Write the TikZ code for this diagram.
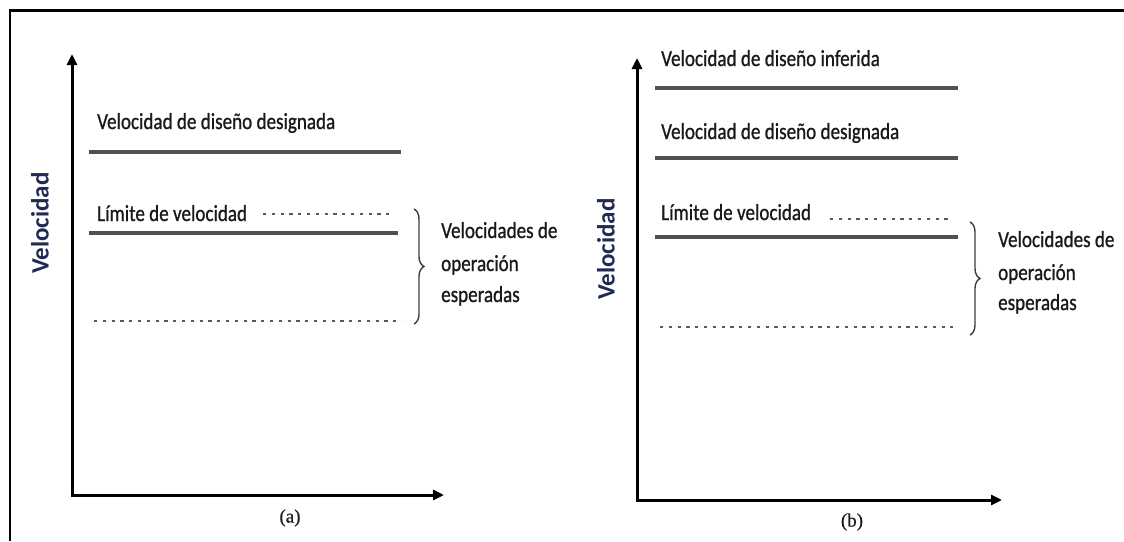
\documentclass[tikz,border=0pt]{standalone}
\usepackage{fontspec}
\setmainfont{Carlito}
\newfontfamily\lblfont[FakeBold=1.0]{Carlito}
\newfontfamily\serifcap[FakeBold=0.6]{Liberation Serif}
\usetikzlibrary{arrows.meta,decorations.pathreplacing}
\definecolor{linegray}{RGB}{80,80,80}
\definecolor{dotgray}{RGB}{90,90,90}
\definecolor{bracegray}{RGB}{60,60,60}
\definecolor{axlabel}{RGB}{32,42,85}
\definecolor{txt}{RGB}{25,25,30}
\begin{document}
\begin{tikzpicture}[x=1pt,y=-1pt,
  lbl/.style={anchor=base west, inner sep=0pt, font=\lblfont\fontsize{23}{26}\selectfont, xscale=0.83, text=txt},
  vlbl/.style={inner sep=0pt, font=\fontsize{25}{28}\selectfont\bfseries, rotate=90, text=axlabel},
  caplbl/.style={inner sep=0pt, font=\serifcap\fontsize{19}{22}\selectfont, text=txt},
  axis/.style={line width=3pt, black, -{Triangle[length=11pt,width=10pt]}},
  solidline/.style={line width=3.2pt, linegray},
  dotline/.style={line width=2.8pt, dotgray, dash pattern=on 3.2pt off 5.6pt},
  bracel/.style={line width=1.4pt, bracegray, decorate, decoration={brace, amplitude=10pt}},
  frameline/.style={line width=2.4pt, black}]
\useasboundingbox (0,0) rectangle (1124,541);
% frame
\coordinate (fTR) at (1124,10.5);
\coordinate (fTL) at (10,10.5);
\coordinate (fBL) at (10,541);
\draw[frameline] (fTR) -- (fTL) -- (fBL);

% ---------------- panel (a) ----------------
\coordinate (aO) at (72,495);
\coordinate (aY) at (72,54);
\coordinate (aX) at (444,495);
\draw[axis] ([yshift=1.5pt]aO) -- (aY);
\draw[axis] ([xshift=-1.5pt]aO) -- (aX);
\node[vlbl] (aVel) at (40,223) {Velocidad};

\node[lbl] (aDes) at (97,129) {Velocidad de diseño designada};
\coordinate (aS1a) at (89,152); \coordinate (aS1b) at (401,152);
\draw[solidline] (aS1a) -- (aS1b);

\node[lbl] (aLim) at (97,221) {Límite de velocidad};
\coordinate (aD1a) at (263,214); \coordinate (aD1b) at (390,214);
\draw[dotline] (aD1a) -- (aD1b);
\coordinate (aS2a) at (89,233); \coordinate (aS2b) at (398,233);
\draw[solidline] (aS2a) -- (aS2b);
\coordinate (aD2a) at (94,321); \coordinate (aD2b) at (402,321);
\draw[dotline] (aD2a) -- (aD2b);

\coordinate (aBt) at (414,209); \coordinate (aBb) at (414,324);
\draw[bracel] (aBt) -- (aBb);
\node[lbl] (aOp1) at (441,238) {Velocidades de};
\node[lbl] (aOp2) at (441,271) {operación};
\node[lbl] (aOp3) at (441,302) {esperadas};

\node[caplbl] (aCap) at (290,518) {(a)};

% ---------------- panel (b) ----------------
\coordinate (bO) at (637,500);
\coordinate (bY) at (637,58);
\coordinate (bX) at (1002,500);
\draw[axis] ([yshift=1.5pt]bO) -- (bY);
\draw[axis] ([xshift=-1.5pt]bO) -- (bX);
\node[vlbl] (bVel) at (606,249) {Velocidad};

\node[lbl] (bInf) at (661,66) {Velocidad de diseño inferida};
\coordinate (bS0a) at (655,88); \coordinate (bS0b) at (958,88);
\draw[solidline] (bS0a) -- (bS0b);

\node[lbl] (bDes) at (661,139) {Velocidad de diseño designada};
\coordinate (bS1a) at (655,158); \coordinate (bS1b) at (958,158);
\draw[solidline] (bS1a) -- (bS1b);

\node[lbl] (bLim) at (661,220) {Límite de velocidad};
\coordinate (bD1a) at (830,219); \coordinate (bD1b) at (949,219);
\draw[dotline] (bD1a) -- (bD1b);
\coordinate (bS2a) at (655,237); \coordinate (bS2b) at (958,237);
\draw[solidline] (bS2a) -- (bS2b);
\coordinate (bD2a) at (660,327); \coordinate (bD2b) at (953,327);
\draw[dotline] (bD2a) -- (bD2b);

\coordinate (bBt) at (970,222); \coordinate (bBb) at (970,335);
\draw[bracel] (bBt) -- (bBb);
\node[lbl] (bOp1) at (998,247) {Velocidades de};
\node[lbl] (bOp2) at (998,280) {operación};
\node[lbl] (bOp3) at (998,310) {esperadas};

\node[caplbl] (bCap) at (852,522) {(b)};
\end{tikzpicture}
\end{document}
